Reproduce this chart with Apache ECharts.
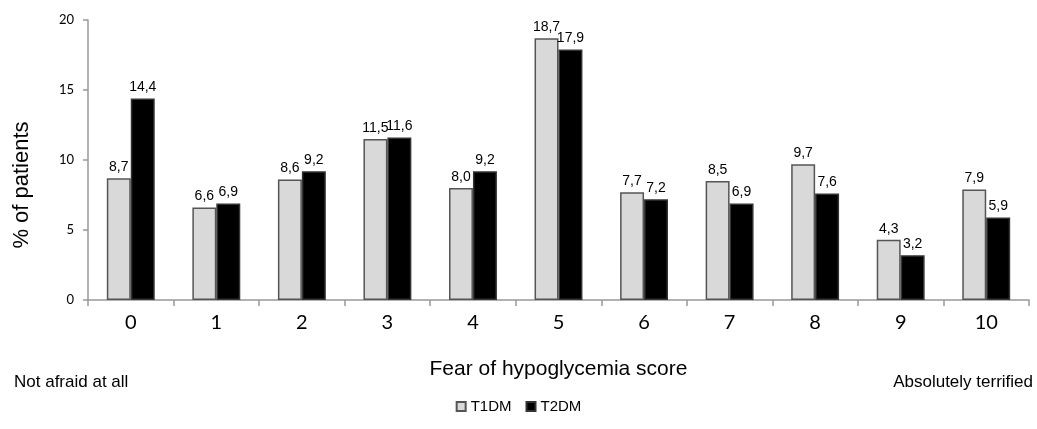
<!DOCTYPE html>
<html><head><meta charset="utf-8">
<script src="https://cdn.jsdelivr.net/npm/echarts@6/dist/echarts.min.js"></script>
<style>html,body{margin:0;padding:0;background:#fff}#c{width:1037px;height:429px}</style>
</head><body><div id="c"></div>
<script>
var categories = ['0','1','2','3','4','5','6','7','8','9','10'];
var t1dm = [8.7, 6.6, 8.6, 11.5, 8.0, 18.7, 7.7, 8.5, 9.7, 4.3, 7.9];
var t2dm = [14.4, 6.9, 9.2, 11.6, 9.2, 17.9, 7.2, 6.9, 7.6, 3.2, 5.9];
var seriesNames = ['T1DM', 'T2DM'];

var chart = echarts.init(document.getElementById('c'));
function fmt(p){ return p.value.toFixed(1).replace('.', ','); }
var lbl = {show:true, position:'top', distance:4, color:'#000', fontSize:14, fontFamily:'Liberation Sans', formatter: fmt};
chart.setOption({
  animation:false,
  grid:{left:88, right:8, top:20, bottom:129},
  legend:{
    data:seriesNames, bottom:10, left:'center', itemWidth:9, itemHeight:9, itemGap:14,
    textStyle:{fontSize:15, color:'#000', fontFamily:'Liberation Sans'},
    icon:'rect'
  },
  xAxis:{
    type:'category', data:categories,
    name:'Fear of hypoglycemia score', nameLocation:'middle', nameGap:59,
    nameTextStyle:{fontSize:21, color:'#000', fontFamily:'Liberation Sans'},
    axisLine:{lineStyle:{color:'#999', width:1.5}},
    axisTick:{show:true, length:6, lineStyle:{color:'#999', width:1.5}},
    axisLabel:{fontSize:20, color:'#000', margin:13, fontFamily:'Lato'}
  },
  yAxis:{
    type:'value', min:0, max:20, interval:5,
    axisLine:{show:true, lineStyle:{color:'#999', width:1.5}},
    axisTick:{show:true, length:5, lineStyle:{color:'#999', width:1.5}},
    splitLine:{show:false},
    axisLabel:{fontSize:13, color:'#000', margin:14, fontFamily:'Lato'}
  },
  series:[
    {name:seriesNames[0], type:'bar', data:t1dm, barWidth:'28%', barGap:'0%',
     itemStyle:{color:'#d9d9d9', borderColor:'#555', borderWidth:1.5}, label:lbl},
    {name:seriesNames[1], type:'bar', data:t2dm, barWidth:'28%',
     itemStyle:{color:'#000', borderColor:'#333', borderWidth:1.5}, label:lbl}
  ],
  graphic:[
    {type:'text', x:22, y:185, rotation:Math.PI/2, style:{text:'% of patients', fontSize:22, fill:'#000', fontFamily:'Liberation Sans', align:'center', verticalAlign:'middle'}},
    {type:'text', left:14, top:374, style:{text:'Not afraid at all', fontSize:17, fill:'#000', fontFamily:'Liberation Sans'}},
    {type:'text', right:4, top:374, style:{text:'Absolutely terrified', fontSize:17, fill:'#000', fontFamily:'Liberation Sans'}}
  ]
});
</script></body></html>
